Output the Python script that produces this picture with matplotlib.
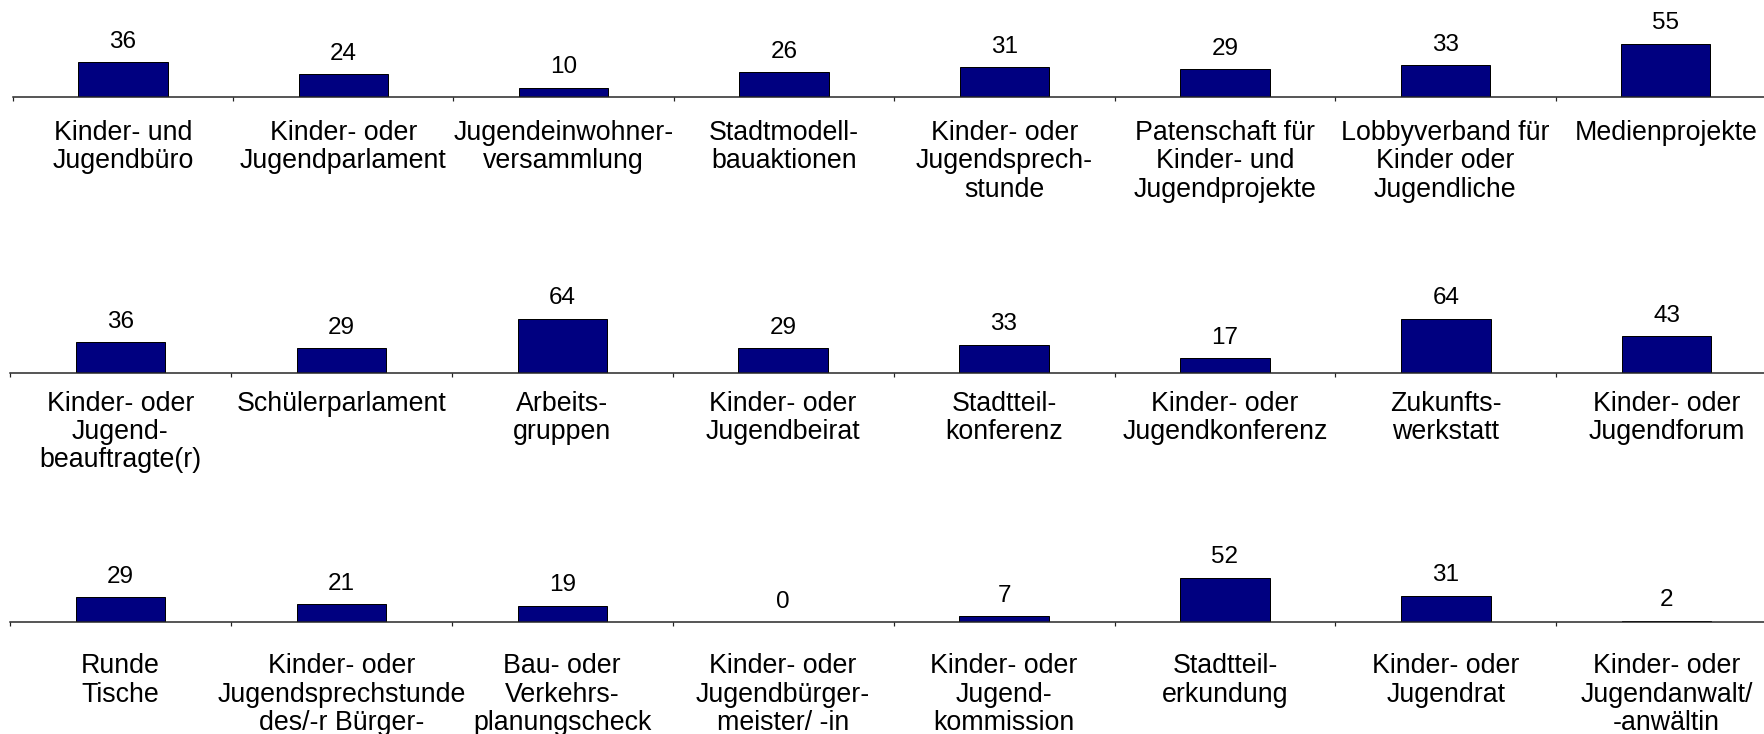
import matplotlib.pyplot as plt
import numpy as np

plt.rcParams['font.family'] = ['Liberation Sans', 'DejaVu Sans']

# three rows of eight participation forms, each with its count
row1_labels = ["Kinder- und\nJugendbüro", "Kinder- oder\nJugendparlament",
               "Jugendeinwohner-\nversammlung", "Stadtmodell-\nbauaktionen",
               "Kinder- oder\nJugendsprech-\nstunde", "Patenschaft für\nKinder- und\nJugendprojekte",
               "Lobbyverband für\nKinder oder\nJugendliche", "Medienprojekte"]
row1_values = [36, 24, 10, 26, 31, 29, 33, 55]

row2_labels = ["Kinder- oder\nJugend-\nbeauftragte(r)", "Schülerparlament",
               "Arbeits-\ngruppen", "Kinder- oder\nJugendbeirat",
               "Stadtteil-\nkonferenz", "Kinder- oder\nJugendkonferenz",
               "Zukunfts-\nwerkstatt", "Kinder- oder\nJugendforum"]
row2_values = [36, 29, 64, 29, 33, 17, 64, 43]

row3_labels = ["Runde\nTische", "Kinder- oder\nJugendsprechstunde\ndes/-r Bürger-\nmeister/-in",
               "Bau- oder\nVerkehrs-\nplanungscheck", "Kinder- oder\nJugendbürger-\nmeister/ -in",
               "Kinder- oder\nJugend-\nkommission", "Stadtteil-\nerkundung",
               "Kinder- oder\nJugendrat", "Kinder- oder\nJugendanwalt/\n-anwältin"]
row3_values = [29, 21, 19, 0, 7, 52, 31, 2]

W, H, DPI = 1765, 734, 100
fig = plt.figure(figsize=(W / DPI, H / DPI), dpi=DPI)

# row layout in pixels: axis line y, left edge, category width, px per unit, label drop
rows = [
    (row1_labels, row1_values, 97.3, 12.7, 220.4, 0.97, 23),
    (row2_labels, row2_values, 372.7, 10.0, 220.9, 0.845, 18),
    (row3_labels, row3_values, 622.3, 10.0, 220.9, 0.86, 31),
]

px = 72.0 / DPI  # points per pixel
ax_h = 70.0

for labels, values, y_axis, x0, cat_w, scale, drop in rows:
    n = len(values)
    ax = fig.add_axes([x0 / W, (H - y_axis) / H, n * cat_w / W, ax_h / H])
    x = np.arange(n)
    ax.bar(x, values, width=0.405, color='#000080', edgecolor='black',
           linewidth=1.0 * px)
    ax.set_xlim(-0.5, n - 0.5)
    ax.set_ylim(0, ax_h / scale)

    for spine in ['left', 'right', 'top']:
        ax.spines[spine].set_visible(False)
    ax.spines['bottom'].set_color('#222222')
    ax.spines['bottom'].set_linewidth(1.5 * px)
    ax.set_yticks([])
    ax.set_xticks([])
    ax.set_xticks(np.arange(n + 1) - 0.5, minor=True)
    ax.tick_params(axis='x', which='minor', direction='out', length=4 * px,
                   width=1.2 * px, color='#222222')
    ax.patch.set_visible(False)

    for i, v in enumerate(values):
        ax.annotate(str(v), (i, v), xytext=(0, 9.5 * px), textcoords='offset points',
                    ha='center', va='bottom', fontsize=17.5, annotation_clip=False)
        ax.annotate(labels[i], (i, 0), xytext=(0, -drop * px), textcoords='offset points',
                    ha='center', va='top', fontsize=19.3, linespacing=1.11,
                    annotation_clip=False)

fig.savefig('out.png', dpi=DPI, facecolor='white')
